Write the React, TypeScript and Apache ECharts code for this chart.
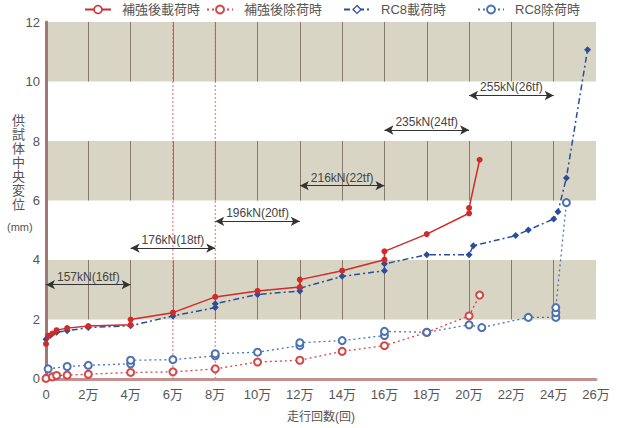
import React, { useEffect, useRef } from "react";
import * as echarts from "echarts";

// ---- tick labels ----
const xTickLabels = ["0", "2万", "4万", "6万", "8万", "10万", "12万", "14万", "16万", "18万", "20万", "22万", "24万", "26万"];
const yTickLabels = ["0", "2", "4", "6", "8", "10", "12"];

// ---- series names ----
const seriesNames = ["補強後載荷時", "補強後除荷時", "RC8載荷時", "RC8除荷時"];

// ---- series values (x in 万回, y in mm) ----
const s1X = [0, 0.1, 0.3, 0.5, 1.0, 2.0, 4.0, 4.0, 6.0, 8.0, 10.0, 12.0, 12.0, 14.0, 16.0, 16.0, 18.0, 20.0, 20.0, 20.5];
const s1Y = [1.18, 1.45, 1.53, 1.64, 1.71, 1.78, 1.82, 2.0, 2.23, 2.76, 2.96, 3.09, 3.34, 3.64, 4.01, 4.29, 4.87, 5.57, 5.75, 7.37];

const s2X = [0, 0.3, 0.5, 1.0, 2.0, 4.0, 6.0, 8.0, 10.0, 12.0, 14.0, 16.0, 18.0, 20.0, 20.5];
const s2Y = [0.02, 0.07, 0.12, 0.13, 0.16, 0.22, 0.24, 0.34, 0.57, 0.63, 0.93, 1.12, 1.57, 2.12, 2.82];

const s3X = [0, 0.2, 0.5, 1.0, 2.0, 4.0, 6.0, 8.0, 8.0, 10.0, 12.0, 12.0, 14.0, 16.0, 16.0, 18.0, 20.0, 20.2, 22.2, 22.8, 24.0, 24.2, 24.6, 25.6];
const s3Y = [1.34, 1.46, 1.57, 1.62, 1.73, 1.79, 2.12, 2.4, 2.53, 2.84, 2.96, 3.05, 3.45, 3.64, 3.87, 4.18, 4.18, 4.48, 4.82, 5.01, 5.38, 5.62, 6.76, 11.07];

const s4X = [0.1, 1.0, 2.0, 4.0, 4.0, 6.0, 8.0, 8.0, 10.0, 12.0, 12.0, 14.0, 16.0, 16.0, 18.0, 20.0, 20.6, 22.8, 24.1, 24.1, 24.1, 24.6];
const s4Y = [0.34, 0.42, 0.46, 0.51, 0.63, 0.65, 0.78, 0.85, 0.9, 1.12, 1.22, 1.29, 1.46, 1.6, 1.57, 1.82, 1.73, 2.07, 2.07, 2.23, 2.4, 5.93];

// ---- load annotations ----
const arrowStart = [0, 4, 8, 12, 16, 20];
const arrowEnd = [4, 8, 12, 16, 20, 24];
const arrowLevel = [3.17, 4.4, 5.3, 6.5, 8.37, 9.53];
const arrowLabels = ["157kN(16tf)", "176kN(18tf)", "196kN(20tf)", "216kN(22tf)", "235kN(24tf)", "255kN(26tf)"];

// ---- background bands & guides ----
const bandRanges = [[2, 4], [6, 8], [10, 12]];
const bandLineX = [2, 4, 6, 8, 10, 12, 14, 16, 18, 20, 22, 24];
const guideX = [6, 8];
const guideSpan = [0, 12];

const RED = "#d02a2a";
const RED2 = "#d84545";
const BLUE = "#2a4e9c";
const BLUE2 = "#4d72b4";
const GUIDE = "#e26a6a";
const FONT = "'Liberation Sans', 'Noto Sans CJK JP', sans-serif";

const zip = (xs: number[], ys: number[]) => xs.map((x, i) => [x, ys[i]]);

export default function App() {
  const ref = useRef<HTMLDivElement>(null);
  useEffect(() => {
    if (!ref.current) return;
    const chart = echarts.init(ref.current, undefined, { renderer: "svg" });

    const bandLines: any[] = [];
    bandRanges.forEach(([a, b]) => {
      bandLineX.forEach((x) => {
        bandLines.push([{ coord: [x, a] }, { coord: [x, b] }]);
      });
    });

    const legendLefts = [84, 206, 343, 477];
    const legendItemStyles: any[] = [
      { color: "#fff", borderColor: RED, borderWidth: 1.5 },
      { color: RED2 },
      { color: "#fff", borderColor: BLUE, borderWidth: 1.2 },
      { color: BLUE2 },
    ];

    const guideSeries = guideX.map((x, i) => ({
      type: "line",
      name: "guide" + i,
      data: guideSpan.map((y) => [x, y]),
      z: 2,
      silent: true,
      symbol: "none",
      itemStyle: { color: GUIDE },
      lineStyle: { color: GUIDE, width: 1, type: [2, 2] },
    }));

    const option: any = {
      animation: false,
      backgroundColor: "#fff",
      textStyle: { fontFamily: FONT },
      grid: { left: 46, right: 31, top: 22, bottom: 46, containLabel: false },
      legend: seriesNames.map((n, i) => ({
        data: [{ name: n, itemStyle: legendItemStyles[i] }],
        left: legendLefts[i],
        top: 3,
        itemWidth: 26,
        itemHeight: 10,
        padding: 0,
        selectedMode: false,
        textStyle: { fontSize: 13, color: "#555", fontFamily: FONT, padding: [0, 0, 0, 6] },
      })),
      xAxis: {
        type: "value",
        min: 0,
        max: 26,
        interval: 2,
        z: 4,
        name: "走行回数(回)",
        nameLocation: "middle",
        nameGap: 32,
        nameTextStyle: { fontSize: 12, color: "#555", fontFamily: FONT },
        axisLine: { show: true, onZero: false, lineStyle: { color: "#c49090", width: 3 } },
        axisTick: { show: false },
        axisLabel: {
          color: "#555",
          fontSize: 13,
          margin: 9,
          formatter: (v: number) => xTickLabels[Math.round(v / 2)] ?? "",
        },
        splitLine: { show: false },
      },
      yAxis: {
        type: "value",
        min: 0,
        max: 12,
        interval: 2,
        z: 4,
        axisLine: { show: true, onZero: false, lineStyle: { color: "#a07878", width: 3 } },
        axisTick: { show: false },
        axisLabel: {
          color: "#555",
          fontSize: 13,
          margin: 6,
          formatter: (v: number) => yTickLabels[Math.round(v / 2)] ?? "",
        },
        splitLine: { show: false },
      },
      graphic: [
        {
          type: "text",
          left: 12,
          top: 113,
          style: {
            text: "供\n試\n体\n中\n央\n変\n位",
            fontSize: 13,
            lineHeight: 14,
            fill: "#555",
            fontFamily: FONT,
          },
        },
        {
          type: "text",
          left: 7,
          top: 221,
          style: { text: "(mm)", fontSize: 11, fill: "#555", fontFamily: FONT },
        },
      ],
      series: [
        {
          type: "line",
          name: "bg",
          data: [],
          z: 1,
          silent: true,
          markArea: {
            silent: true,
            itemStyle: { color: "#d9d5c4" },
            data: bandRanges.map(([a, b]) => [{ yAxis: a }, { yAxis: b }]),
          },
          markLine: {
            silent: true,
            symbol: ["none", "none"],
            label: { show: false },
            lineStyle: { color: "#857a6c", width: 1, type: "solid" },
            data: bandLines,
          },
        },
        ...guideSeries,
        {
          type: "line",
          name: seriesNames[0],
          data: zip(s1X, s1Y),
          z: 6,
          symbol: "circle",
          symbolSize: 6,
          itemStyle: { color: RED },
          lineStyle: { color: RED, width: 1.5, type: "solid" },
        },
        {
          type: "line",
          name: seriesNames[1],
          data: zip(s2X, s2Y),
          z: 5,
          symbol: "emptyCircle",
          symbolSize: 7,
          itemStyle: { color: RED2, borderWidth: 1.2 },
          lineStyle: { color: RED2, width: 1.3, type: [2, 3] },
        },
        {
          type: "line",
          name: seriesNames[2],
          data: zip(s3X, s3Y),
          z: 5,
          symbol: "diamond",
          symbolSize: 7,
          itemStyle: { color: BLUE },
          lineStyle: { color: BLUE, width: 1.5, type: [6, 3, 2, 3] },
        },
        {
          type: "line",
          name: seriesNames[3],
          data: zip(s4X, s4Y),
          z: 5,
          symbol: "emptyCircle",
          symbolSize: 7,
          itemStyle: { color: BLUE2, borderWidth: 1.2 },
          lineStyle: { color: BLUE2, width: 1.3, type: [2, 3] },
        },
        {
          type: "line",
          name: "arrows",
          data: [],
          z: 7,
          silent: true,
          markLine: {
            silent: true,
            symbol: ["arrow", "arrow"],
            symbolSize: [7, 9],
            lineStyle: { color: "#333", width: 1.2, type: "solid" },
            label: {
              show: true,
              position: "middle",
              distance: 2,
              color: "#444",
              fontSize: 12,
              fontFamily: FONT,
            },
            data: arrowLabels.map((t, i) => [
              { coord: [arrowStart[i], arrowLevel[i]], name: t, label: { formatter: t } },
              { coord: [arrowEnd[i], arrowLevel[i]] },
            ]),
          },
        },
      ],
    };
    chart.setOption(option);
    return () => chart.dispose();
  }, []);

  return (
    <div
      ref={ref}
      style={{ position: "fixed", left: 0, top: 0, width: 627, height: 428, background: "#fff" }}
    />
  );
}
